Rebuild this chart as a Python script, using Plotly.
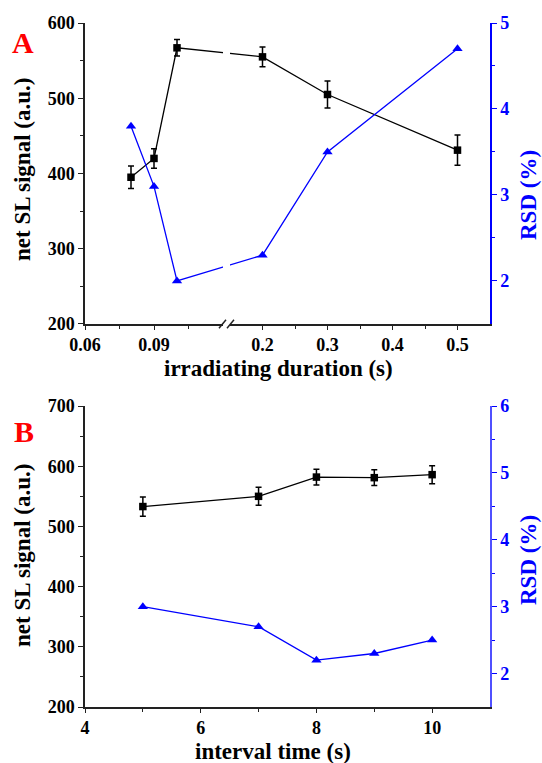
import plotly.graph_objects as go

# ---------------- data ----------------
# Panel A: irradiating duration (s)
dur_a = [0.08, 0.09, 0.10, 0.2, 0.3, 0.5]
sig_a = [395, 420, 567, 555, 505, 431]
err_a = [15, 13, 11, 13, 18, 20]
rsd_a = [3.8, 3.1, 2.0, 2.3, 3.5, 4.7]
ticks_a_left = [0.06, 0.09]
minor_a_left = [0.075, 0.105]
ticks_a_right = [0.2, 0.3, 0.4, 0.5]
minor_a_right = [0.25, 0.35, 0.45]

# Panel B: interval time (s)
int_b = [5, 7, 8, 9, 10]
sig_b = [533, 550, 582, 581, 586]
err_b = [16, 15, 13, 13, 15]
rsd_b = [3.0, 2.7, 2.2, 2.3, 2.5]
ticks_b = [4, 6, 8, 10]

# ---------------- broken axis mapping ----------------
L_RANGE = (0.06, 0.12)
R_RANGE = (0.15, 0.55)
L_FRAC = 138 / 405
R_START = 145 / 405


def brk(v):
    if v <= L_RANGE[1]:
        return L_FRAC * (v - L_RANGE[0]) / (L_RANGE[1] - L_RANGE[0])
    return R_START + (1 - R_START) * (v - R_RANGE[0]) / (R_RANGE[1] - R_RANGE[0])


ua = [brk(v) for v in dur_a]

FONT = "Liberation Serif"
BLUE = "#0000ff"
tickfont_k = dict(family=FONT, size=18, color="black", weight="bold")
tickfont_b = dict(family=FONT, size=18, color=BLUE, weight="bold")

fig = go.Figure()

# helper invisible traces so the segment axes are drawn
fig.add_trace(go.Scatter(x=list(L_RANGE), y=[300, 300], xaxis="x3", yaxis="y", mode="markers",
                         marker=dict(opacity=0), hoverinfo="skip", showlegend=False))
fig.add_trace(go.Scatter(x=list(R_RANGE), y=[300, 300], xaxis="x4", yaxis="y", mode="markers",
                         marker=dict(opacity=0), hoverinfo="skip", showlegend=False))

# Panel A traces
fig.add_trace(go.Scatter(x=ua, y=sig_a, xaxis="x", yaxis="y", mode="lines+markers",
                         line=dict(color="black", width=1.3),
                         marker=dict(symbol="square", size=7.5, color="black"),
                         error_y=dict(type="data", array=err_a, color="black", thickness=1.5, width=3),
                         showlegend=False))
fig.add_trace(go.Scatter(x=ua, y=rsd_a, xaxis="x", yaxis="y2", mode="lines+markers",
                         line=dict(color=BLUE, width=1.3),
                         marker=dict(symbol="triangle-up", size=9, color=BLUE),
                         showlegend=False))

# Panel B traces
fig.add_trace(go.Scatter(x=int_b, y=sig_b, xaxis="x2", yaxis="y3", mode="lines+markers",
                         line=dict(color="black", width=1.3),
                         marker=dict(symbol="square", size=7.5, color="black"),
                         error_y=dict(type="data", array=err_b, color="black", thickness=1.5, width=3),
                         showlegend=False))
fig.add_trace(go.Scatter(x=int_b, y=rsd_b, xaxis="x2", yaxis="y4", mode="lines+markers",
                         line=dict(color=BLUE, width=1.3),
                         marker=dict(symbol="triangle-up", size=9, color=BLUE),
                         showlegend=False))

A_DOM = [0.560, 1.0]
B_DOM = [0.0, 0.440]
LW = 1.5
LC = "#222222"

yk = dict(showgrid=False, zeroline=False, showline=True, linecolor=LC, linewidth=LW,
          ticks="outside", ticklen=5, tickwidth=1.3, tickcolor=LC, tickfont=tickfont_k)
yb = dict(showgrid=False, zeroline=False, showline=True, linewidth=LW,
          ticks="outside", ticklen=5, tickwidth=1.3, tickcolor=BLUE, tickfont=tickfont_b)
xk = dict(showgrid=False, zeroline=False, showline=True, linecolor=LC, linewidth=LW,
          ticks="outside", ticklen=4, tickwidth=1.3, tickcolor=LC, tickfont=tickfont_k)

fig.update_layout(
    width=542, height=763,
    margin=dict(l=85, r=52, t=23, b=56),
    paper_bgcolor="white", plot_bgcolor="rgba(0,0,0,0)",
    # ---- panel A ----
    xaxis=dict(domain=[0, 1], range=[0, 1], anchor="y", visible=False, showgrid=False, zeroline=False),
    yaxis=dict(domain=A_DOM, range=[200, 600], anchor="x", tickvals=[200, 300, 400, 500, 600],
               minor=dict(tickvals=[250, 350, 450, 550], ticks="outside", ticklen=3, tickcolor=LC), **yk),
    yaxis2=dict(range=[1.5, 5], overlaying="y", side="right", anchor="x", tickvals=[2, 3, 4, 5],
                linecolor=BLUE,
                minor=dict(tickvals=[2.5, 3.5, 4.5], ticks="outside", ticklen=3, tickcolor=BLUE), **yb),
    xaxis3=dict(domain=[0, L_FRAC], range=list(L_RANGE), anchor="y", tickvals=ticks_a_left,
                ticktext=["0.06", "0.09"],
                minor=dict(tickvals=minor_a_left, ticks="outside", ticklen=3, tickcolor=LC), **xk),
    xaxis4=dict(domain=[R_START, 1], range=list(R_RANGE), anchor="y", tickvals=ticks_a_right,
                ticktext=["0.2", "0.3", "0.4", "0.5"],
                minor=dict(tickvals=minor_a_right, ticks="outside", ticklen=3, tickcolor=LC), **xk),
    xaxis5=dict(overlaying="x", side="top", anchor="y", range=[0, 10], dtick=1, tick0=0,
                showgrid=False, zeroline=False, showline=True, linecolor=LC, linewidth=LW,
                ticks="inside", ticklen=3, tickcolor=LC, showticklabels=False),
    # ---- panel B ----
    xaxis2=dict(domain=[0, 1], range=[4, 11], anchor="y3", tickvals=ticks_b,
                minor=dict(tickvals=[5, 7, 9], ticks="outside", ticklen=3, tickcolor=LC), **xk),
    yaxis3=dict(domain=B_DOM, range=[200, 700], anchor="x2", tickvals=[200, 300, 400, 500, 600, 700],
                minor=dict(tickvals=[250, 350, 450, 550, 650], ticks="outside", ticklen=3, tickcolor=LC), **yk),
    yaxis4=dict(range=[1.5, 6], overlaying="y3", side="right", anchor="x2", tickvals=[2, 3, 4, 5, 6],
                linecolor="#5050ff",
                minor=dict(tickvals=[2.5, 3.5, 4.5, 5.5], ticks="outside", ticklen=3, tickcolor=BLUE), **yb),
    xaxis6=dict(overlaying="x2", side="top", anchor="y3", range=[4, 11], dtick=1, tick0=4,
                showgrid=False, zeroline=False, showline=True, linecolor=LC, linewidth=LW,
                ticks="inside", ticklen=3, tickcolor=LC, showticklabels=False),
)

# gap in the data lines at the axis break (panel A)
fig.add_shape(type="rect", xref="x", yref="y domain", x0=L_FRAC, x1=R_START, y0=0.006, y1=0.99,
              fillcolor="white", line=dict(width=0), layer="above")
# break marks "//"
for xs in [(134 / 405, 141 / 405), (142 / 405, 149 / 405)]:
    fig.add_shape(type="line", xref="x", yref="y domain", x0=xs[0], x1=xs[1], y0=-0.014, y1=0.014,
                  line=dict(color=LC, width=1.5))

title_font = dict(family=FONT, size=23, color="black")
ann = [
    dict(text="<b>A</b>", x=23, y=42, font=dict(family=FONT, size=30, color="red")),
    dict(text="<b>B</b>", x=24, y=431, font=dict(family=FONT, size=30, color="red")),
    dict(text="<b>irradiating duration (s)</b>", x=278, y=369, font=title_font),
    dict(text="<b>interval time (s)</b>", x=273, y=751, font=title_font),
    dict(text="<b>net SL signal (a.u.)</b>", x=22, y=170, font=title_font, textangle=-90),
    dict(text="<b>net SL signal (a.u.)</b>", x=22, y=556, font=title_font, textangle=-90),
    dict(text="<b>RSD (%)</b>", x=528, y=195, font=dict(family=FONT, size=23, color=BLUE), textangle=-90),
    dict(text="<b>RSD (%)</b>", x=528, y=560, font=dict(family=FONT, size=23, color=BLUE), textangle=-90),
]
PW, PH = 405, 684
for a in ann:
    px, py = a.pop("x"), a.pop("y")
    fig.add_annotation(xref="paper", yref="paper", x=(px - 85) / PW, y=(707 - py) / PH,
                       xanchor="center", yanchor="middle", showarrow=False, **a)

fig.write_html("out.html")
